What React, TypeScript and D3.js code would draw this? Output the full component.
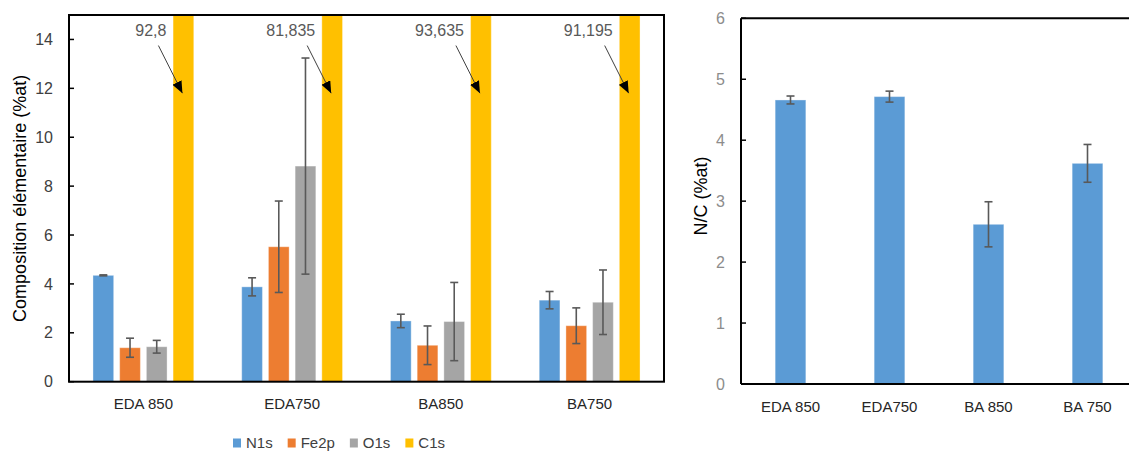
import React from "react";
import * as d3 from "d3";

// ---------- Data ----------
const categoriesLeft = ["EDA 850", "EDA750", "BA850", "BA750"];
const seriesNames = ["N1s", "Fe2p", "O1s", "C1s"];
const seriesColors = ["#5B9BD5", "#ED7D31", "#A5A5A5", "#FFC000"];
const n1s = [4.35, 3.88, 2.485, 3.335];
const n1sErr = [0.02, 0.37, 0.275, 0.355];
const fe2p = [1.39, 5.52, 1.49, 2.29];
const fe2pErr = [0.39, 1.87, 0.79, 0.73];
const o1s = [1.43, 8.82, 2.46, 3.25];
const o1sErr = [0.26, 4.42, 1.6, 1.32];
const c1s = [92.8, 81.835, 93.635, 91.195];
const c1sLabels = ["92,8", "81,835", "93,635", "91,195"];
const leftTicks = [0, 2, 4, 6, 8, 10, 12, 14];
const leftMax = 15;

const categoriesRight = ["EDA 850", "EDA750", "BA 850", "BA 750"];
const ncRatio = [4.66, 4.715, 2.62, 3.62];
const ncErr = [0.065, 0.09, 0.37, 0.31];
const rightTicks = [0, 1, 2, 3, 4, 5, 6];
const rightMax = 6;

// annotation anchors (data units on the y axis)
const arrowTipValue = 11.8;
const arrowTailValue = 13.75;
const labelValue = 14.35;

const FONT = "'Liberation Sans', Arial, sans-serif";

function measure(text: string, size: number): number {
  if (typeof document === "undefined") return text.length * size * 0.55;
  const c = document.createElement("canvas").getContext("2d");
  if (!c) return text.length * size * 0.55;
  c.font = `${size}px ${FONT}`;
  return c.measureText(text).width;
}

export default function App() {
  const W = 1129;
  const H = 451;

  // Left chart
  const L = { left: 69, right: 664, top: 15, bottom: 381.7 };
  const xL = d3.scaleBand<string>().domain(categoriesLeft).range([L.left, L.right]).paddingInner(0).paddingOuter(0);
  const xInner = d3
    .scaleBand<string>()
    .domain(seriesNames)
    .range([0, xL.bandwidth()])
    .paddingInner(0.225)
    .paddingOuter(0.898);
  const yL = d3.scaleLinear().domain([0, leftMax]).range([L.bottom, L.top]);
  const leftSeries = [
    { vals: n1s, errs: n1sErr },
    { vals: fe2p, errs: fe2pErr },
    { vals: o1s, errs: o1sErr },
    { vals: c1s, errs: null as number[] | null },
  ];

  // Right chart
  const R = { left: 741, right: 1137, top: 18.3, bottom: 384 };
  const xR = d3.scaleBand<string>().domain(categoriesRight).range([R.left, R.right]).paddingInner(0.69).paddingOuter(0.345);
  const yR = d3.scaleLinear().domain([0, rightMax]).range([R.bottom, R.top]);

  const errColor = "#595959";
  const cap = 4;

  // Legend layout
  const legSize = 15;
  const sq = 8;
  const widths = seriesNames.map((s) => measure(s, legSize));
  const itemW = widths.map((w) => sq + 5 + w + 15);
  const totalLeg = d3.sum(itemW) - 15;
  const legStart = 233;
  const legX: number[] = [];
  let acc = legStart;
  itemW.forEach((w) => {
    legX.push(acc);
    acc += w;
  });
  void totalLeg;

  return (
    <svg
      width={W}
      height={H}
      style={{ position: "absolute", left: 0, top: 0, background: "#fff", fontFamily: FONT }}
    >
      <defs>
        <marker id="arrowhead" viewBox="0 0 12 10" refX="12" refY="5" markerWidth="12" markerHeight="10" markerUnits="userSpaceOnUse" orient="auto">
          <path d="M0,0 L12,5 L0,10 Z" fill="#000" />
        </marker>
      </defs>

      {/* ===== Left chart ===== */}
      {leftSeries.map((s, si) =>
        categoriesLeft.map((c, ci) => {
          const x = (xL(c) as number) + (xInner(seriesNames[si]) as number);
          const v = Math.min(s.vals[ci], leftMax);
          return (
            <rect
              key={`b${si}-${ci}`}
              x={x}
              y={yL(v)}
              width={xInner.bandwidth()}
              height={yL(0) - yL(v)}
              fill={seriesColors[si]}
              stroke="#ffffff"
              strokeOpacity={0.35}
              strokeWidth={1}
            />
          );
        })
      )}
      {leftSeries.map((s, si) =>
        s.errs
          ? categoriesLeft.map((c, ci) => {
              const cx = (xL(c) as number) + (xInner(seriesNames[si]) as number) + xInner.bandwidth() / 2;
              const hi = yL(s.vals[ci] + s.errs![ci]);
              const lo = yL(s.vals[ci] - s.errs![ci]);
              return (
                <g key={`e${si}-${ci}`} stroke={errColor} strokeWidth={1.6}>
                  <line x1={cx} x2={cx} y1={hi} y2={lo} />
                  <line x1={cx - cap} x2={cx + cap} y1={hi} y2={hi} />
                  <line x1={cx - cap} x2={cx + cap} y1={lo} y2={lo} />
                </g>
              );
            })
          : null
      )}

      {/* annotations for C1s */}
      {categoriesLeft.map((c, ci) => {
        const cx = (xL(c) as number) + (xInner("C1s") as number) + xInner.bandwidth() / 2 - 1;
        const tailX = cx - 24;
        return (
          <g key={`a${ci}`}>
            <line
              x1={tailX}
              y1={yL(arrowTailValue)}
              x2={cx}
              y2={yL(arrowTipValue)}
              stroke="#404040"
              strokeWidth={1}
              markerEnd="url(#arrowhead)"
            />
            <text x={tailX + 8} y={yL(labelValue)} dy="0.35em" textAnchor="end" fontSize={16} fill="#595959">
              {c1sLabels[ci]}
            </text>
          </g>
        );
      })}

      {/* frame */}
      <rect x={L.left} y={L.top} width={L.right - L.left} height={L.bottom - L.top} fill="none" stroke="#000" strokeWidth={2} />
      {leftTicks.map((t) => (
        <g key={`lt${t}`}>
          <line x1={L.left} x2={L.left + 5} y1={yL(t)} y2={yL(t)} stroke="#000" strokeWidth={1.5} />
          <text x={53} y={yL(t)} dy="0.35em" textAnchor="end" fontSize={16} fill="#404040">
            {t}
          </text>
        </g>
      ))}
      {categoriesLeft.map((c) => (
        <text key={`lc${c}`} x={(xL(c) as number) + xL.bandwidth() / 2} y={404} dy="0.35em" textAnchor="middle" fontSize={15} fill="#262626">
          {c}
        </text>
      ))}
      <text
        transform={`translate(26, ${(L.top + L.bottom) / 2}) rotate(-90)`}
        textAnchor="middle"
        fontSize={18}
        fill="#000"
      >
        Composition élémentaire (%at)
      </text>

      {/* legend */}
      {seriesNames.map((s, i) => (
        <g key={`lg${s}`}>
          <rect x={legX[i]} y={438.5} width={sq} height={9} fill={seriesColors[i]} />
          <text x={legX[i] + sq + 5} y={443} dy="0.35em" fontSize={legSize} fill="#404040">
            {s}
          </text>
        </g>
      ))}

      {/* ===== Right chart ===== */}
      {categoriesRight.map((c, i) => (
        <rect
          key={`rb${c}`}
          x={xR(c) as number}
          y={yR(ncRatio[i])}
          width={xR.bandwidth()}
          height={yR(0) - yR(ncRatio[i])}
          fill="#5B9BD5"
          stroke="#ffffff"
          strokeOpacity={0.35}
          strokeWidth={1}
        />
      ))}
      {categoriesRight.map((c, i) => {
        const cx = (xR(c) as number) + xR.bandwidth() / 2;
        const hi = yR(ncRatio[i] + ncErr[i]);
        const lo = yR(ncRatio[i] - ncErr[i]);
        return (
          <g key={`re${c}`} stroke={errColor} strokeWidth={1.6}>
            <line x1={cx} x2={cx} y1={hi} y2={lo} />
            <line x1={cx - cap} x2={cx + cap} y1={hi} y2={hi} />
            <line x1={cx - cap} x2={cx + cap} y1={lo} y2={lo} />
          </g>
        );
      })}
      <line x1={R.left} x2={W} y1={R.top} y2={R.top} stroke="#000" strokeWidth={2} />
      <line x1={R.left} x2={W} y1={R.bottom} y2={R.bottom} stroke="#000" strokeWidth={2} />
      <line x1={R.left} x2={R.left} y1={R.top} y2={R.bottom} stroke="#000" strokeWidth={2} />
      {rightTicks.map((t) => (
        <g key={`rt${t}`}>
          <line x1={R.left} x2={R.left + 5} y1={yR(t)} y2={yR(t)} stroke="#000" strokeWidth={1.5} />
          <text x={725} y={yR(t)} dy="0.35em" textAnchor="end" fontSize={16} fill="#8c8c8c">
            {t}
          </text>
        </g>
      ))}
      {categoriesRight.map((c) => (
        <text key={`rc${c}`} x={(xR(c) as number) + xR.bandwidth() / 2} y={407} dy="0.35em" textAnchor="middle" fontSize={15} fill="#262626">
          {c}
        </text>
      ))}
      <text
        transform={`translate(707, 196) rotate(-90)`}
        textAnchor="middle"
        fontSize={18}
        fill="#000"
      >
        N/C (%at)
      </text>
    </svg>
  );
}
